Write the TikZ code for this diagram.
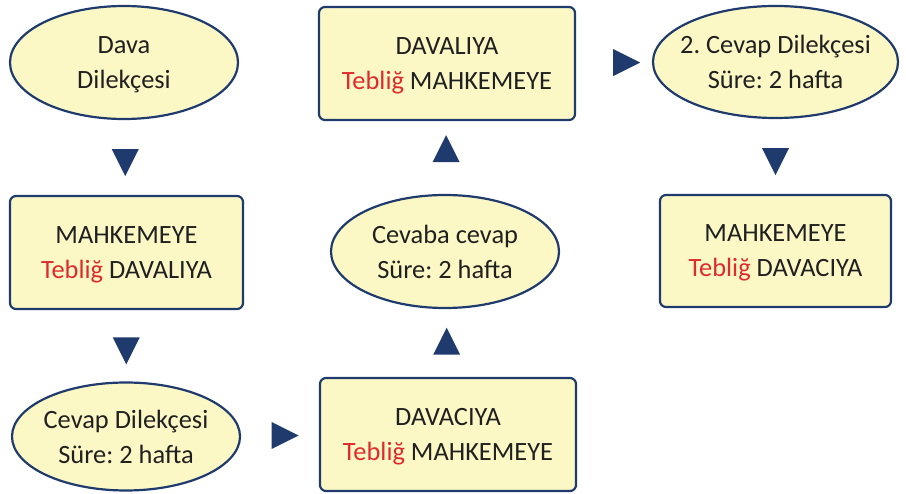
\documentclass[tikz,border=0pt]{standalone}
\usepackage{fontspec}
\setmainfont{Carlito}
\frenchspacing
\usetikzlibrary{shapes.geometric}
\definecolor{boxfill}{HTML}{FCF8C6}
\definecolor{boxline}{HTML}{1F3B6E}
\definecolor{tebred}{HTML}{DF2A2E}
\definecolor{txt}{HTML}{202020}
\newcommand{\teb}{\textcolor{tebred}{Tebliğ}}
\tikzset{
  stage/.style={ellipse, draw=boxline, line width=2.2pt, fill=boxfill, text=txt,
    align=center, inner sep=-25pt, text depth=0pt, font=\fontsize{26.4}{35}\selectfont},
  notice/.style={rectangle, rounded corners=6pt, draw=boxline, line width=2.2pt,
    fill=boxfill, text=txt, align=center, text depth=0pt, font=\fontsize{26.4}{35}\selectfont},
  tri/.style={isosceles triangle, isosceles triangle stretches, fill=boxline,
    inner sep=0pt, minimum width=27pt, minimum height=27pt},
}
\begin{document}
\begin{tikzpicture}[x=1pt,y=-1pt]
  \useasboundingbox (0,0) rectangle (906,494);
  % left column
  \node[stage, minimum width=228pt, minimum height=113pt] (dava) at (124,62.5) {Dava\\Dilekçesi};
  \node[notice, minimum width=233pt, minimum height=113pt] (mah1) at (126.5,252.5) {MAHKEMEYE\\\teb{} DAVALIYA};
  \node[stage, minimum width=228pt, minimum height=108pt] (cevap) at (126,436.5) {Cevap Dilekçesi\\Süre: 2 hafta};
  % middle column
  \node[notice, minimum width=256pt, minimum height=113pt] (davaci) at (448,434.5) {DAVACIYA\\\teb{} MAHKEMEYE};
  \node[stage, minimum width=228pt, minimum height=113pt] (cevaba) at (445,251.5) {Cevaba cevap\\Süre: 2 hafta};
  \node[notice, minimum width=256pt, minimum height=113pt] (davali) at (447,63.5) {DAVALIYA\\\teb{} MAHKEMEYE};
  % right column
  \node[stage, minimum width=245pt, minimum height=112pt] (cevap2) at (775.5,62) {2. Cevap Dilekçesi\\Süre: 2 hafta};
  \node[notice, minimum width=231pt, minimum height=112pt] (mah2) at (775.5,251) {MAHKEMEYE\\\teb{} DAVACIYA};
  % markers
  \path (dava.south) -- node[tri, shape border rotate=-90] (t1) {} (mah1.north);
  \path (mah1.south) -- node[tri, shape border rotate=-90] (t2) {} (cevap.north);
  \path (cevap.east) -- node[tri] (t3) {} (davaci.west);
  \path (davaci.north) -- node[tri, pos=0.45, shape border rotate=90] (t4) {} (cevaba.south);
  \path (cevaba.north) -- node[tri, pos=0.55, shape border rotate=90] (t5) {} (davali.south);
  \path (davali.east) -- node[tri, pos=0.6] (t6) {} (cevap2.west);
  \path (cevap2.south) -- node[tri, shape border rotate=-90] (t7) {} (mah2.north);
\end{tikzpicture}
\end{document}
